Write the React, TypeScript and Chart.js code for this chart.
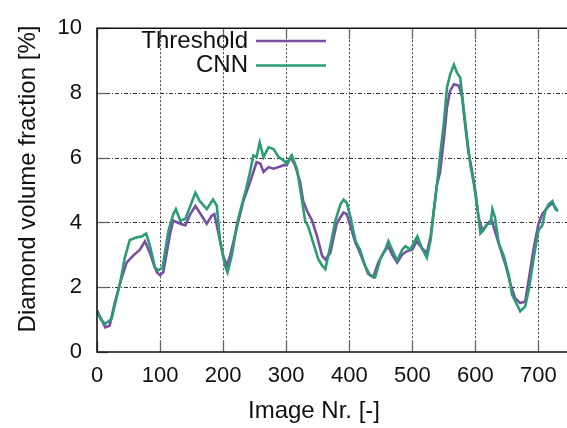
import React, { useEffect, useRef } from "react";
import { Chart, registerables } from "chart.js";

Chart.register(...registerables);

const xTickValues = [0, 100, 200, 300, 400, 500, 600, 700];
const yTickValues = [0, 2, 4, 6, 8, 10];

const seriesLabels = ["Threshold", "CNN"];
const xTitle = "Image Nr. [-]";
const yTitle = "Diamond volume fraction [%]";

const thresholdX = [0, 6, 13, 20, 28, 37, 47, 57, 68, 76, 84, 90, 95, 100, 105, 110, 116, 121, 132, 140, 148, 156, 166, 174, 182, 186, 192, 200, 206, 211, 222, 232, 243, 253, 259, 264, 272, 280, 288, 296, 301, 307, 314, 322, 327, 333, 341, 349, 357, 362, 370, 380, 386, 391, 396, 402, 410, 415, 423, 430, 438, 446, 454, 462, 468, 476, 484, 492, 500, 507, 515, 523, 529, 534, 539, 544, 550, 555, 560, 566, 574, 579, 584, 589, 595, 600, 605, 611, 616, 621, 626, 632, 640, 648, 656, 663, 671, 679, 684, 692, 700, 706, 714, 722, 730];
const thresholdY = [1.28, 1.05, 0.76, 0.81, 1.5, 2.16, 2.76, 2.97, 3.16, 3.42, 3.06, 2.7, 2.46, 2.37, 2.46, 3.0, 3.66, 4.06, 3.96, 3.91, 4.26, 4.51, 4.21, 3.96, 4.21, 4.26, 3.72, 2.97, 2.67, 2.97, 3.87, 4.66, 5.26, 5.86, 5.82, 5.56, 5.71, 5.66, 5.71, 5.77, 5.77, 6.02, 5.77, 5.26, 4.66, 4.36, 4.06, 3.57, 2.97, 2.86, 3.06, 3.96, 4.16, 4.31, 4.26, 3.87, 3.36, 3.16, 2.76, 2.41, 2.31, 2.76, 3.06, 3.27, 3.01, 2.76, 3.01, 3.12, 3.16, 3.42, 3.21, 3.06, 3.57, 4.36, 5.16, 5.56, 6.57, 7.57, 8.07, 8.27, 8.22, 7.87, 6.97, 6.17, 5.56, 4.96, 4.16, 3.76, 3.87, 4.01, 4.06, 3.66, 3.16, 2.67, 2.07, 1.66, 1.51, 1.56, 2.16, 3.16, 3.96, 4.26, 4.46, 4.61, 4.36];

const cnnX = [0, 6, 13, 23, 30, 37, 44, 52, 63, 71, 78, 84, 92, 97, 104, 113, 121, 125, 132, 140, 148, 156, 163, 174, 184, 190, 195, 203, 207, 214, 222, 229, 236, 242, 248, 253, 258, 264, 272, 280, 288, 296, 301, 309, 317, 322, 330, 335, 343, 351, 357, 362, 370, 378, 386, 391, 396, 402, 410, 417, 425, 433, 441, 449, 457, 462, 468, 476, 484, 489, 497, 502, 508, 515, 523, 529, 534, 539, 544, 550, 555, 560, 566, 571, 576, 581, 587, 592, 597, 603, 608, 613, 619, 624, 627, 631, 637, 645, 653, 658, 666, 671, 679, 685, 693, 700, 706, 711, 716, 722, 727, 731];
const cnnY = [1.28, 1.0, 0.87, 1.02, 1.6, 2.16, 2.91, 3.46, 3.54, 3.57, 3.66, 3.27, 2.61, 2.52, 2.61, 3.72, 4.26, 4.41, 4.06, 4.11, 4.51, 4.92, 4.66, 4.41, 4.71, 4.51, 3.46, 2.67, 2.46, 3.0, 3.96, 4.5, 5.0, 5.5, 6.07, 6.02, 6.47, 6.02, 6.32, 6.27, 6.02, 5.92, 5.82, 6.07, 5.66, 5.06, 4.06, 3.87, 3.36, 2.86, 2.67, 2.56, 3.27, 4.06, 4.56, 4.71, 4.61, 4.16, 3.42, 3.16, 2.67, 2.37, 2.31, 2.86, 3.16, 3.42, 3.16, 2.82, 3.16, 3.27, 3.16, 3.36, 3.57, 3.21, 2.91, 3.46, 4.36, 5.16, 6.07, 7.07, 8.17, 8.57, 8.87, 8.62, 8.47, 7.57, 6.57, 5.77, 5.26, 4.46, 3.66, 3.76, 3.96, 3.96, 4.41, 4.16, 3.36, 2.97, 2.37, 1.77, 1.46, 1.26, 1.41, 1.96, 2.97, 3.76, 3.91, 4.36, 4.56, 4.66, 4.41, 4.36];

const PURPLE = "#7a4ea3";
const GREEN = "#2a9c76";
const FONT = "'Liberation Sans', Arial, Helvetica, sans-serif";

const decorPlugin = {
  id: "gnuplotDecor",
  beforeDatasetsDraw(chart: any) {
    const { ctx, chartArea, scales } = chart;
    const { left, right, top, bottom } = chartArea;
    const xs = scales.x;
    const ys = scales.y;
    ctx.save();
    ctx.lineWidth = 1;
    // horizontal grid
    ctx.strokeStyle = "#333";
    ctx.setLineDash([4, 2, 1, 2]);
    yTickValues.forEach((v) => {
      if (v === 0 || v === 10) return;
      const y = Math.round(ys.getPixelForValue(v)) + 0.5;
      ctx.beginPath();
      ctx.moveTo(left, y);
      ctx.lineTo(right, y);
      ctx.stroke();
    });
    // vertical grid
    ctx.strokeStyle = "#444";
    ctx.setLineDash([2, 2]);
    xTickValues.forEach((v) => {
      if (v === 0) return;
      const x = Math.round(xs.getPixelForValue(v)) + 0.5;
      ctx.beginPath();
      ctx.moveTo(x, top);
      ctx.lineTo(x, bottom);
      ctx.stroke();
    });
    ctx.setLineDash([]);
    // inward ticks
    ctx.strokeStyle = "#666";
    ctx.lineWidth = 1.3;
    const tl = 11;
    xTickValues.forEach((v) => {
      const x = Math.round(xs.getPixelForValue(v)) + 0.5;
      ctx.beginPath();
      ctx.moveTo(x, bottom);
      ctx.lineTo(x, bottom - tl);
      ctx.moveTo(x, top);
      ctx.lineTo(x, top + tl);
      ctx.stroke();
    });
    yTickValues.forEach((v) => {
      const y = Math.round(ys.getPixelForValue(v)) + 0.5;
      ctx.beginPath();
      ctx.moveTo(left, y);
      ctx.lineTo(left + tl, y);
      ctx.stroke();
    });
    ctx.restore();
  },
  afterDatasetsDraw(chart: any) {
    const { ctx, chartArea } = chart;
    const { left, right, top, bottom } = chartArea;
    ctx.save();
    // frame
    ctx.strokeStyle = "#111";
    ctx.lineWidth = 1.6;
    ctx.beginPath();
    ctx.moveTo(right + 2, top);
    ctx.lineTo(left, top);
    ctx.lineTo(left, bottom);
    ctx.lineTo(right + 2, bottom);
    ctx.stroke();
    // legend
    ctx.font = "24px " + FONT;
    ctx.fillStyle = "#111";
    ctx.textAlign = "right";
    ctx.textBaseline = "middle";
    const legendRows = [
      { label: seriesLabels[0], color: PURPLE, y: 41 },
      { label: seriesLabels[1], color: GREEN, y: 65.5 },
    ];
    legendRows.forEach((r) => {
      ctx.fillStyle = "#111";
      ctx.fillText(r.label, 248, r.y);
      ctx.strokeStyle = r.color;
      ctx.lineWidth = 2.6;
      ctx.beginPath();
      ctx.moveTo(256, r.y);
      ctx.lineTo(326, r.y);
      ctx.stroke();
    });
    // axis titles
    ctx.fillStyle = "#111";
    ctx.textAlign = "center";
    ctx.textBaseline = "middle";
    ctx.fillText(xTitle, 314, 411);
    ctx.translate(28, 179);
    ctx.rotate(-Math.PI / 2);
    ctx.fillText(yTitle, 0, 0);
    ctx.restore();
  },
};

export default function App() {
  const ref = useRef<HTMLCanvasElement | null>(null);
  useEffect(() => {
    document.body.style.overflow = "hidden";
    const canvas = ref.current;
    if (!canvas) return;
    const chart = new Chart(canvas, {
      type: "line",
      data: {
        datasets: [
          {
            label: seriesLabels[0],
            data: thresholdX.map((x, i) => ({ x, y: thresholdY[i] })),
            borderColor: PURPLE,
            borderWidth: 2.6,
            pointRadius: 0,
            tension: 0,
            fill: false,
            order: 1,
          },
          {
            label: seriesLabels[1],
            data: cnnX.map((x, i) => ({ x, y: cnnY[i] })),
            borderColor: GREEN,
            borderWidth: 2.6,
            pointRadius: 0,
            tension: 0,
            fill: false,
            order: 0,
          },
        ],
      },
      options: {
        animation: false,
        responsive: true,
        maintainAspectRatio: false,
        devicePixelRatio: 1,
        layout: { padding: { top: 19, right: 0, bottom: 0, left: 0 } },
        plugins: {
          legend: { display: false },
          tooltip: { enabled: false },
          title: { display: false },
        },
        scales: {
          x: {
            type: "linear",
            min: 0,
            max: 750,
            grid: { display: false, drawTicks: false },
            border: { display: false },
            afterBuildTicks: (scale: any) => {
              scale.ticks = xTickValues.map((v) => ({ value: v }));
            },
            afterFit: (scale: any) => {
              scale.height = 76;
            },
            ticks: {
              padding: 11,
              maxRotation: 0,
              autoSkip: false,
              color: "#111",
              font: { family: FONT, size: 22 },
            },
          },
          y: {
            type: "linear",
            min: 0,
            max: 10,
            grid: { display: false, drawTicks: false },
            border: { display: false },
            afterBuildTicks: (scale: any) => {
              scale.ticks = yTickValues.map((v) => ({ value: v }));
            },
            afterFit: (scale: any) => {
              scale.width = 97;
            },
            ticks: {
              padding: 15,
              color: "#111",
              font: { family: FONT, size: 22 },
            },
          },
        },
      },
      plugins: [decorPlugin],
    });
    return () => chart.destroy();
  }, []);
  return (
    <div style={{ position: "fixed", left: 0, top: 0, width: 570, height: 428, background: "#fff" }}>
      <canvas ref={ref} />
    </div>
  );
}
